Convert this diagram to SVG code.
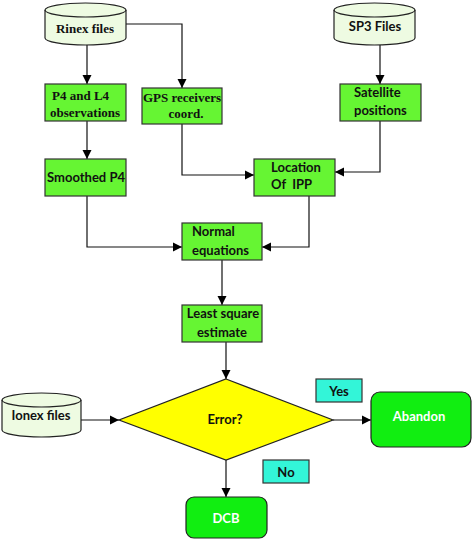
<svg xmlns="http://www.w3.org/2000/svg" width="472" height="539" viewBox="0 0 472 539">
<defs>
<marker id="ah" markerWidth="10" markerHeight="10" refX="9" refY="5" orient="auto" markerUnits="userSpaceOnUse">
<path d="M0,0.5 L9,5 L0,9.5 Z" fill="#000"/>
</marker>
<style>
.box{fill:#66f533;stroke:#333;stroke-width:1.2}
.cyl{fill:#eefbe2;stroke:#222;stroke-width:1.2}
.end{fill:#11ee11;stroke:#222;stroke-width:1.2}
.lab{fill:#33f5d8;stroke:#333;stroke-width:1.2}
.ser{font-family:"Liberation Serif",serif;font-weight:bold;font-size:13px;fill:#111}
.san{font-family:Lato,"Liberation Sans",sans-serif;font-weight:bold;font-size:13px;fill:#111}
.wht{font-family:Lato,"Liberation Sans",sans-serif;font-weight:bold;font-size:13px;fill:#fff}
.c{text-anchor:middle}
.ln{fill:none;stroke:#111;stroke-width:1.2;marker-end:url(#ah)}
</style>
</defs>
<rect width="472" height="539" fill="#fff"/>

<g id="connectors">
<path class="ln" d="M87,45 V84"/>
<path class="ln" d="M126,24 H182 V88"/>
<path class="ln" d="M380,45 V84"/>
<path class="ln" d="M87,121 V159"/>
<path class="ln" d="M182,124 V175 H254"/>
<path class="ln" d="M380,121 V172 H335"/>
<path class="ln" d="M87,196 V247 H182"/>
<path class="ln" d="M309,196 V247 H262"/>
<path class="ln" d="M222,260 V305"/>
<path class="ln" d="M226,342 V379"/>
<path class="ln" d="M81,420 H119"/>
<path class="ln" d="M333,420 H371"/>
<path class="ln" d="M226,460 V497"/>
</g>

<g id="rinex">
<path class="cyl" d="M45,10 V38 A40.5,7 0 0 0 126,38 V10 A40.5,7 0 0 0 45,10 Z"/>
<path fill="none" stroke="#222" stroke-width="1.2" d="M45,10 A40.5,7 0 0 0 126,10"/>
<text class="ser c" x="85" y="33">Rinex files</text>
</g>

<g id="sp3">
<path class="cyl" d="M334,10 V38 A40.5,7 0 0 0 415,38 V10 A40.5,7 0 0 0 334,10 Z"/>
<path fill="none" stroke="#222" stroke-width="1.2" d="M334,10 A40.5,7 0 0 0 415,10"/>
<text class="san c" x="375" y="31">SP3 Files</text>
</g>

<g id="p4l4">
<rect class="box" x="45" y="84" width="81" height="37"/>
<text class="ser" x="52" y="100">P4 and L4</text>
<text class="ser" x="50" y="117">observations</text>
</g>

<g id="gps">
<rect class="box" x="142" y="88" width="80" height="36"/>
<text class="ser c" x="182" y="102">GPS receivers</text>
<text class="ser c" x="186" y="118">coord.</text>
</g>

<g id="satellite">
<rect class="box" x="340" y="84" width="81" height="37"/>
<text class="san" x="354" y="97">Satellite</text>
<text class="san" x="354" y="115">positions</text>
</g>

<g id="smoothed">
<rect class="box" x="45" y="159" width="81" height="37"/>
<text class="san c" x="86" y="182">Smoothed P4</text>
</g>

<g id="location">
<rect class="box" x="254" y="159" width="81" height="37"/>
<text class="san" x="271" y="172">Location</text>
<text class="san" x="271" y="189" xml:space="preserve">Of  IPP</text>
</g>

<g id="normal">
<rect class="box" x="182" y="223" width="80" height="37"/>
<text class="san" x="192" y="236">Normal</text>
<text class="san" x="192" y="255">equations</text>
</g>

<g id="least">
<rect class="box" x="182" y="305" width="80" height="37"/>
<text class="san c" x="223" y="318">Least square</text>
<text class="san c" x="222" y="337">estimate</text>
</g>

<g id="error">
<polygon points="226,379 333,420 226,460 119,420" fill="#ffff00" stroke="#222" stroke-width="1.2"/>
<text class="san c" x="225" y="424">Error?</text>
</g>

<g id="ionex">
<path class="cyl" d="M2,400 V430 A39.5,7 0 0 0 81,430 V400 A39.5,7 0 0 0 2,400 Z"/>
<path fill="none" stroke="#222" stroke-width="1.2" d="M2,400 A39.5,7 0 0 0 81,400"/>
<text class="san c" x="41" y="420">Ionex files</text>
</g>

<g id="yes">
<rect class="lab" x="316" y="379" width="46" height="23"/>
<text class="san c" x="339" y="396">Yes</text>
</g>

<g id="abandon">
<rect class="end" x="371" y="392" width="100" height="55" rx="9"/>
<text class="wht c" x="419" y="421">Abandon</text>
</g>

<g id="no">
<rect class="lab" x="263" y="460" width="46" height="23"/>
<text class="san c" x="286" y="477">No</text>
</g>

<g id="dcb">
<rect class="end" x="186" y="497" width="81" height="41" rx="8"/>
<text class="wht c" x="226" y="523">DCB</text>
</g>
</svg>
